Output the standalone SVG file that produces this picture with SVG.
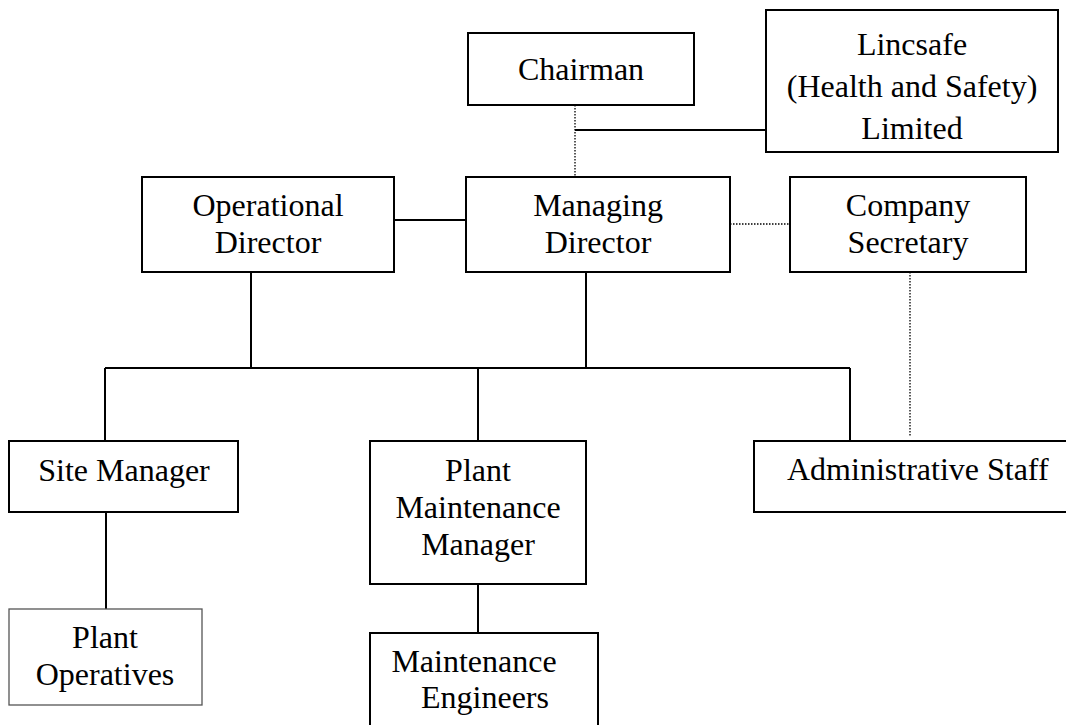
<svg xmlns="http://www.w3.org/2000/svg" width="1066" height="725" viewBox="0 0 1066 725">
  <style>
    .box { fill: #ffffff; stroke: #000000; stroke-width: 2; }
    .box.light { stroke: #555555; stroke-width: 1.3; }
    .lbl { font-family: "Liberation Serif", "Times New Roman", serif; font-size: 32px; fill: #000000; text-anchor: middle; }
    .solid { fill: none; stroke: #000000; stroke-width: 2; }
    .dotted { fill: none; stroke: #000000; stroke-width: 1.3; stroke-dasharray: 1.5 1.5; }
  </style>
  <rect width="1066" height="725" fill="#ffffff"/>

  <!-- connectors -->
  <g id="connectors">
    <path class="dotted" d="M575 105 V177"/>
    <path class="solid" d="M575 130 H766"/>
    <path class="solid" d="M394 220 H466"/>
    <path class="dotted" d="M730 224 H790"/>
    <path class="solid" d="M251 272 V368"/>
    <path class="solid" d="M586 272 V368"/>
    <path class="solid" d="M105 368 H850"/>
    <path class="solid" d="M105 368 V441"/>
    <path class="solid" d="M478 368 V441"/>
    <path class="solid" d="M850 368 V441"/>
    <path class="dotted" d="M910 272 V437"/>
    <path class="solid" d="M106 512 V609"/>
    <path class="solid" d="M478 584 V633"/>
  </g>

  <g id="chairman">
    <rect class="box" x="468" y="33" width="226" height="72"/>
    <text class="lbl" x="581" y="80">Chairman</text>
  </g>

  <g id="lincsafe">
    <rect class="box" x="766" y="10" width="292" height="142"/>
    <text class="lbl" x="912" y="55">Lincsafe</text>
    <text class="lbl" x="912" y="97">(Health and Safety)</text>
    <text class="lbl" x="912" y="139">Limited</text>
  </g>

  <g id="operational-director">
    <rect class="box" x="142" y="177" width="252" height="95"/>
    <text class="lbl" x="268" y="216">Operational</text>
    <text class="lbl" x="268" y="253">Director</text>
  </g>

  <g id="managing-director">
    <rect class="box" x="466" y="177" width="264" height="95"/>
    <text class="lbl" x="598" y="216">Managing</text>
    <text class="lbl" x="598" y="253">Director</text>
  </g>

  <g id="company-secretary">
    <rect class="box" x="790" y="177" width="236" height="95"/>
    <text class="lbl" x="908" y="216">Company</text>
    <text class="lbl" x="908" y="253">Secretary</text>
  </g>

  <g id="site-manager">
    <rect class="box" x="9" y="441" width="229" height="71"/>
    <text class="lbl" x="124" y="481">Site Manager</text>
  </g>

  <g id="plant-maintenance-manager">
    <rect class="box" x="370" y="441" width="216" height="143"/>
    <text class="lbl" x="478" y="481">Plant</text>
    <text class="lbl" x="478" y="518">Maintenance</text>
    <text class="lbl" x="478" y="555">Manager</text>
  </g>

  <g id="administrative-staff">
    <rect class="box" x="754" y="441" width="330" height="71"/>
    <text class="lbl" x="787" y="480" style="text-anchor: start">Administrative Staff</text>
  </g>

  <g id="plant-operatives">
    <rect class="box light" x="9" y="609" width="193" height="96"/>
    <text class="lbl" x="105" y="648">Plant</text>
    <text class="lbl" x="105" y="685">Operatives</text>
  </g>

  <g id="maintenance-engineers">
    <rect class="box" x="370" y="633" width="228" height="110"/>
    <text class="lbl" x="474" y="672">Maintenance</text>
    <text class="lbl" x="485" y="708">Engineers</text>
  </g>
</svg>
